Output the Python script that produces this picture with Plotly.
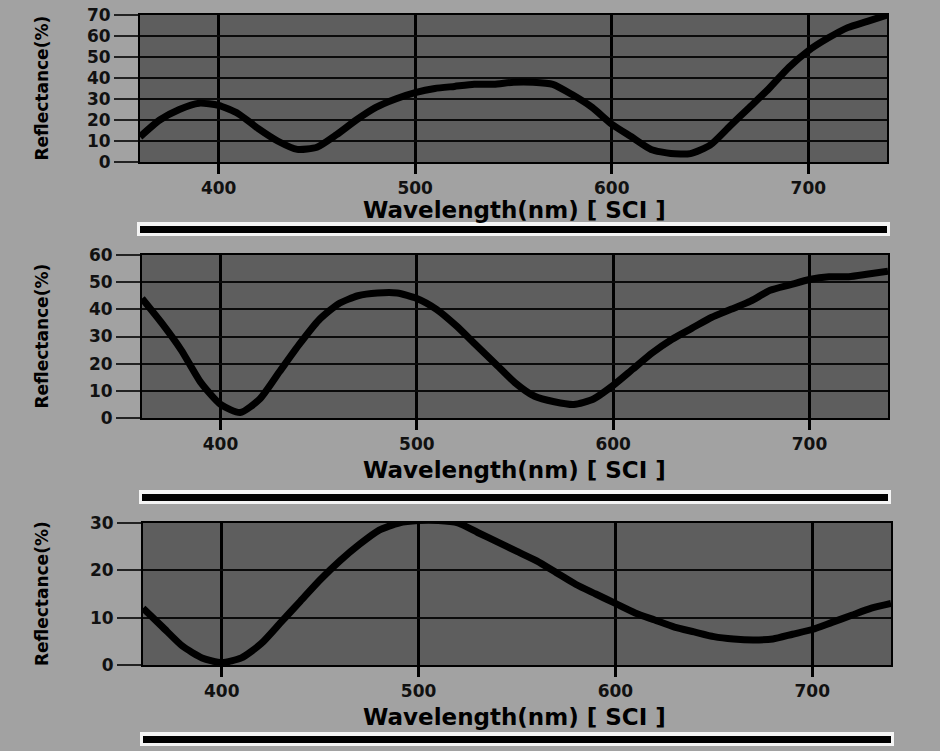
import plotly.graph_objects as go

# ---------------- data ----------------
wavelength = [360, 370, 380, 390, 400, 410, 420, 430, 440, 450, 460, 470, 480,
              490, 500, 510, 520, 530, 540, 550, 560, 570, 580, 590, 600, 610,
              620, 630, 640, 650, 660, 670, 680, 690, 700, 710, 720, 730, 740]

reflectance_top = [12, 20, 25, 28, 27, 23, 16, 10, 6, 7, 13, 20, 26,
                   30, 33, 35, 36, 37, 37, 38, 38, 37, 32, 26, 18, 12,
                   6, 4, 4, 8, 17, 26, 35, 45, 53, 59, 64, 67, 70]

reflectance_mid = [44, 35, 25, 13, 5, 2, 7, 17, 27, 36, 42, 45, 46,
                   46, 44, 40, 34, 27, 20, 13, 8, 6, 5, 7, 12, 18,
                   24, 29, 33, 37, 40, 43, 47, 49, 51, 52, 52, 53, 54]

reflectance_bot = [12, 8, 4, 1.5, 0.5, 1.5, 4.5, 9, 13.5, 18, 22, 25.5, 28.5,
                   30, 30.5, 30.5, 30, 28, 26, 24, 22, 19.5, 17, 15, 13, 11,
                   9.5, 8, 7, 6, 5.5, 5.3, 5.5, 6.5, 7.5, 9, 10.5, 12, 13]

x_ticks = [400, 500, 600, 700]
y_ticks_top = [0, 10, 20, 30, 40, 50, 60, 70]
y_ticks_mid = [0, 10, 20, 30, 40, 50, 60]
y_ticks_bot = [0, 10, 20, 30]
x_title = "Wavelength(nm) [ SCI ]"
y_title = "Reflectance(%)"

# ---------------- layout helpers ----------------
W, H = 940, 751
def px(x):
    return x / W
def py(y):
    return 1 - y / H

PAPER = "#a2a2a2"
PLOT = "#5e5e5e"
INK = "#111111"

panels = [
    # (series, yticks, ymax, top px, bottom px, left px, right px)
    (reflectance_top, y_ticks_top, 70, 15, 162, 140, 887),
    (reflectance_mid, y_ticks_mid, 60, 255, 418, 142, 888),
    (reflectance_bot, y_ticks_bot, 30, 523, 665, 143, 891),
]

fig = go.Figure()
layout = dict(
    width=W, height=H,
    margin=dict(l=0, r=0, t=0, b=0, pad=0, autoexpand=False),
    paper_bgcolor=PAPER,
    plot_bgcolor=PLOT,
    showlegend=False,
    font=dict(family="DejaVu Sans", color=INK, size=17),
)

annotations = []
shapes = []
title_y = [210, 470, 717]
bar_y = [229, 497, 739]

for i, (series, yt, ymax, top, bot, left, right) in enumerate(panels):
    n = "" if i == 0 else str(i + 1)
    fig.add_trace(go.Scatter(
        x=wavelength, y=series, mode="lines",
        line=dict(color="#000000", width=7, shape="spline", smoothing=0.6),
        xaxis="x" + n, yaxis="y" + n, hoverinfo="skip",
    ))
    layout["xaxis" + n] = dict(
        domain=[px(left), px(right)], anchor="y" + n, range=[360, 740],
        tickvals=x_ticks, ticktext=["<b>%d</b>" % v for v in x_ticks],
        showgrid=True, gridcolor="#000000", gridwidth=3,
        ticks="outside", ticklen=10, tickwidth=3, tickcolor="#000000",
        showline=True, linecolor="#000000", linewidth=2, mirror=True,
        zeroline=False, automargin=False,
        tickfont=dict(family="DejaVu Sans", size=17, color=INK),
    )
    layout["yaxis" + n] = dict(
        domain=[py(bot), py(top)], anchor="x" + n, range=[0, ymax],
        tickvals=yt, ticktext=["<b>%d</b>" % v for v in yt],
        showgrid=True, gridcolor="#0a0a0a", gridwidth=2,
        ticks="outside", ticklen=24, tickwidth=2, tickcolor="#222222",
        showline=True, linecolor="#000000", linewidth=2, mirror=True,
        zeroline=False, automargin=False,
        tickfont=dict(family="DejaVu Sans", size=17, color=INK),
    )
    annotations.append(dict(
        text="<b>" + x_title + "</b>", xref="paper", yref="paper",
        x=px(514), y=py(title_y[i]), xanchor="center", yanchor="middle",
        showarrow=False, font=dict(family="DejaVu Sans", size=23, color="#000000"),
    ))
    annotations.append(dict(
        text="<b>" + y_title + "</b>", xref="paper", yref="paper",
        x=px(42), y=py((top + bot) / 2), xanchor="center", yanchor="middle",
        textangle=-90, showarrow=False,
        font=dict(family="DejaVu Sans", size=17, color="#000000"),
    ))
    shapes.append(dict(type="rect", xref="paper", yref="paper",
                       x0=px(left - 3), x1=px(right + 3),
                       y0=py(bar_y[i] + 7), y1=py(bar_y[i] - 7),
                       fillcolor="#f4f4f4", line=dict(width=0), layer="above"))
    shapes.append(dict(type="rect", xref="paper", yref="paper",
                       x0=px(left), x1=px(right),
                       y0=py(bar_y[i] + 4), y1=py(bar_y[i] - 3),
                       fillcolor="#000000", line=dict(width=0), layer="above"))

layout["annotations"] = annotations
layout["shapes"] = shapes
fig.update_layout(**layout)

fig.write_html(
    "out.html",
    config={"displayModeBar": False},
    post_script="document.body.style.margin='0';document.body.style.padding='0';",
)
